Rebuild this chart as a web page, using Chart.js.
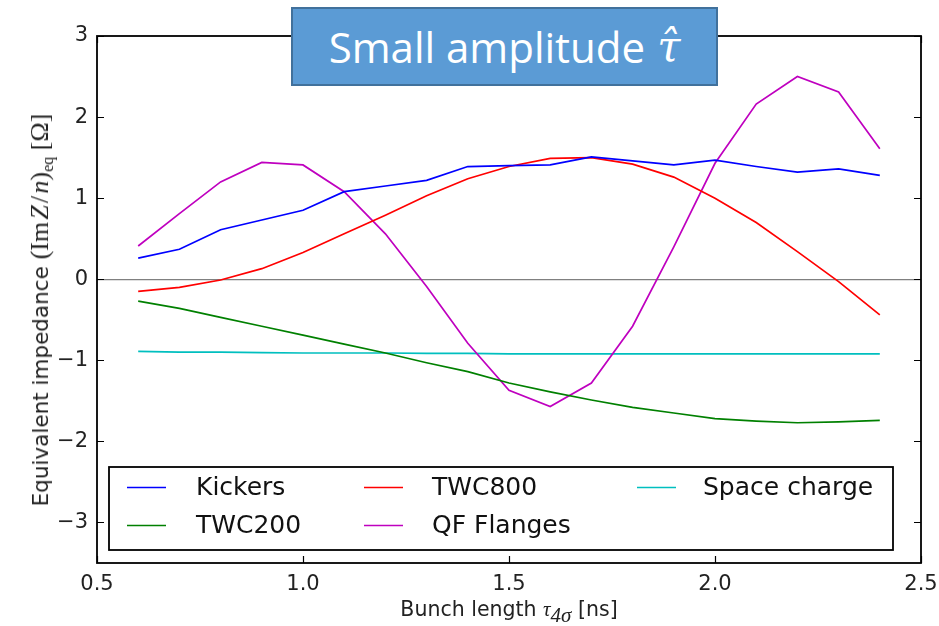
<!DOCTYPE html>
<html>
<head>
<meta charset="utf-8">
<script src="https://cdn.jsdelivr.net/npm/chart.js@4"></script>
<style>
  html, body { margin: 0; padding: 0; background: #fff; }
  #wrap { position: relative; width: 939px; height: 626px; overflow: hidden; }
  #c { position: absolute; left: 0; top: 0; }
  .titlebox {
    position: absolute; left: 291px; top: 7px; width: 427px; height: 79px;
    box-sizing: border-box; background: #5b9bd5; border: 2px solid #41719c;
    color: #fff; font-family: "Open Sans", "Noto Sans", sans-serif; font-size: 42px;
    display: flex; align-items: center; justify-content: center; white-space: nowrap;
  }
  .titlebox .tau { font-family: "DejaVu Serif", "Liberation Serif", serif; font-style: italic; margin-left: 12px; }
  .ytitle {
    position: absolute; left: 40px; top: 310px; white-space: nowrap;
    transform: translate(-50%, -50%) rotate(-90deg);
    font-family: "DejaVu Sans", sans-serif; font-size: 21.5px; color: #222;
  }
  .xtitle {
    position: absolute; left: 509px; top: 597px; white-space: nowrap;
    transform: translateX(-50%);
    font-family: "DejaVu Sans", sans-serif; font-size: 20.5px; color: #222;
  }
  .math { font-family: "Liberation Serif", "DejaVu Serif", serif; font-size: 26px; }
  .mi { font-family: "Liberation Serif", "DejaVu Serif", serif; font-style: italic; }
  .ytitle sub { font-size: 62%; vertical-align: -0.3em; line-height: 0; }
  .xtitle .mi { font-size: 21px; }
  .xtitle sub { font-size: 58%; vertical-align: -0.3em; line-height: 0; }
</style>
</head>
<body>
<div id="wrap">
  <canvas id="c" width="939" height="626"></canvas>
  <div class="titlebox">Small amplitude <span class="tau">τ̂</span></div>
  <div class="ytitle">Equivalent impedance <span class="math">(Im&#8202;<span class="mi">Z</span>&#8202;/&#8202;<span class="mi">n</span>)<sub>eq</sub> [Ω]</span></div>
  <div class="xtitle">Bunch length <span class="mi">τ</span><sub class="mi">4σ</sub> [ns]</div>
</div>
<script>
// ---- data ----
const bunchLength = [0.6, 0.7, 0.8, 0.9, 1.0, 1.1, 1.2, 1.3, 1.4, 1.5, 1.6, 1.7, 1.8, 1.9, 2.0, 2.1, 2.2, 2.3, 2.4];
const kickers     = [0.26, 0.37, 0.61, 0.73, 0.85, 1.08, 1.15, 1.22, 1.39, 1.40, 1.41, 1.51, 1.46, 1.41, 1.47, 1.39, 1.32, 1.36, 1.28];
const twc200      = [-0.27, -0.36, -0.47, -0.58, -0.69, -0.80, -0.91, -1.03, -1.14, -1.28, -1.39, -1.49, -1.58, -1.65, -1.72, -1.75, -1.77, -1.76, -1.74];
const twc800      = [-0.15, -0.10, -0.01, 0.13, 0.33, 0.56, 0.79, 1.03, 1.24, 1.39, 1.49, 1.50, 1.42, 1.26, 1.00, 0.70, 0.34, -0.03, -0.44];
const qfFlanges   = [0.41, 0.81, 1.20, 1.44, 1.41, 1.08, 0.56, -0.09, -0.79, -1.37, -1.57, -1.28, -0.58, 0.40, 1.43, 2.16, 2.50, 2.31, 1.61];
const spaceCharge = [-0.89, -0.90, -0.90, -0.905, -0.91, -0.91, -0.91, -0.915, -0.915, -0.92, -0.92, -0.92, -0.92, -0.92, -0.92, -0.92, -0.92, -0.92, -0.92];
const seriesNames = ['Kickers', 'TWC200', 'TWC800', 'QF Flanges', 'Space charge'];
const xTickValues = [0.5, 1.0, 1.5, 2.0, 2.5];
const yTickValues = [-3, -2, -1, 0, 1, 2, 3];

const seriesValues = [kickers, twc200, twc800, qfFlanges, spaceCharge];
const seriesColors = ['#0000ff', '#008000', '#ff0000', '#bf00bf', '#00bfbf'];

const datasets = seriesNames.map((name, i) => ({
  label: name,
  data: bunchLength.map((x, k) => ({ x: x, y: seriesValues[i][k] })),
  borderColor: seriesColors[i],
  backgroundColor: seriesColors[i],
  borderWidth: 1.7,
  pointRadius: 0,
  tension: 0,
  fill: false,
  order: i
}));

const framePlugin = {
  id: 'frame',
  afterDatasetsDraw(chart) {
    const ctx = chart.ctx, a = chart.chartArea;
    const xs = chart.scales.x, ys = chart.scales.y;
    ctx.save();
    ctx.strokeStyle = '#000';
    ctx.lineWidth = 1.2;
    const L = 7;
    ctx.beginPath();
    xs.ticks.forEach(t => {
      const px = Math.round(xs.getPixelForValue(t.value)) + 0.5;
      ctx.moveTo(px, a.bottom); ctx.lineTo(px, a.bottom - L);
      ctx.moveTo(px, a.top); ctx.lineTo(px, a.top + L);
    });
    ys.ticks.forEach(t => {
      const py = Math.round(ys.getPixelForValue(t.value)) + 0.5;
      ctx.moveTo(a.left, py); ctx.lineTo(a.left + L, py);
      ctx.moveTo(a.right, py); ctx.lineTo(a.right - L, py);
    });
    ctx.stroke();
    ctx.lineWidth = 1.8;
    ctx.strokeRect(a.left, a.top, a.right - a.left, a.bottom - a.top);
    ctx.restore();
  },
  afterDraw(chart) {
    // legend inside plot area, matplotlib style (2 rows, column-major)
    const ctx = chart.ctx;
    const box = { l: 109, t: 467, r: 893, b: 550 };
    const colLine = [127, 364, 637];
    const colText = [196, 432, 703];
    const rowY = [487, 525];
    ctx.save();
    ctx.fillStyle = '#fff';
    ctx.fillRect(box.l, box.t, box.r - box.l, box.b - box.t);
    ctx.strokeStyle = '#000';
    ctx.lineWidth = 1.8;
    ctx.strokeRect(box.l, box.t, box.r - box.l, box.b - box.t);
    ctx.font = '25px "DejaVu Sans", sans-serif';
    ctx.textBaseline = 'middle';
    ctx.textAlign = 'left';
    chart.data.datasets.forEach((ds, i) => {
      const col = Math.floor(i / 2), row = i % 2;
      const y = rowY[row];
      ctx.strokeStyle = ds.borderColor;
      ctx.lineWidth = 1.7;
      ctx.beginPath();
      ctx.moveTo(colLine[col], y + 0.5);
      ctx.lineTo(colLine[col] + 39, y + 0.5);
      ctx.stroke();
      ctx.fillStyle = '#111';
      ctx.fillText(ds.label, colText[col], y + 1);
    });
    ctx.restore();
  }
};

new Chart(document.getElementById('c'), {
  type: 'line',
  data: { datasets: datasets },
  options: {
    responsive: false,
    animation: false,
    devicePixelRatio: 1,
    layout: { padding: { left: 0, right: 18, top: 36, bottom: 0 } },
    plugins: { legend: { display: false }, tooltip: { enabled: false }, title: { display: false } },
    scales: {
      x: {
        type: 'linear', min: 0.5, max: 2.5,
        afterFit(s) { s.height = 63; s.paddingLeft = 0; s.paddingRight = 0; },
        afterBuildTicks(s) { s.ticks = xTickValues.map(v => ({ value: v })); },
        grid: { display: false, drawTicks: false },
        border: { display: false },
        ticks: {
          padding: 9, color: '#222',
          font: { family: '"DejaVu Sans", sans-serif', size: 21 },
          maxRotation: 0,
          callback: v => Number(v).toFixed(1)
        }
      },
      y: {
        type: 'linear', min: -3.5, max: 3,
        afterFit(s) { s.width = 97; s.paddingTop = 0; s.paddingBottom = 0; },
        afterBuildTicks(s) { s.ticks = yTickValues.map(v => ({ value: v })); },
        grid: {
          drawTicks: false,
          color: c => (c.tick && c.tick.value === 0) ? '#808080' : 'rgba(0,0,0,0)',
          lineWidth: 1.2
        },
        border: { display: false },
        ticks: {
          padding: 9, color: '#222',
          font: { family: '"DejaVu Sans", sans-serif', size: 21 },
          callback: v => (v < 0 ? '\u2212' + Math.abs(v) : String(v))
        }
      }
    }
  },
  plugins: [framePlugin]
});
</script>
</body>
</html>
